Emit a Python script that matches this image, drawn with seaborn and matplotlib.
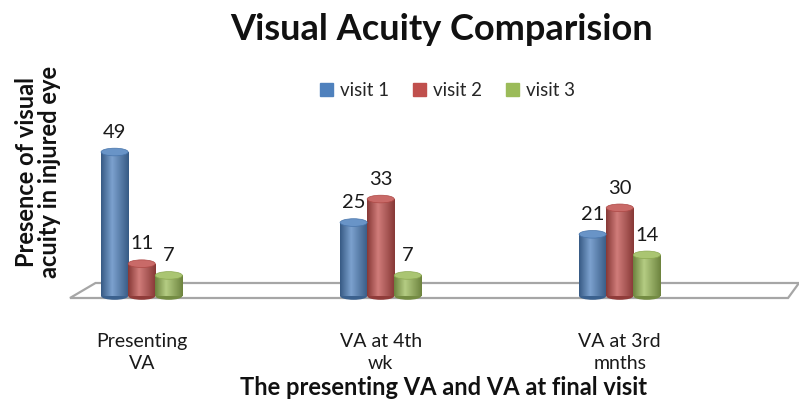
"""Visual acuity comparison chart (cylinder-style grouped bars)."""

import matplotlib.pyplot as plt
import numpy as np
import pandas as pd
import seaborn as sns
from matplotlib.colors import LinearSegmentedColormap, to_rgb
from matplotlib.patches import Ellipse, Polygon

categories = ["Presenting\nVA", "VA at 4th\nwk", "VA at 3rd\nmnths"]
visits = ["visit 1", "visit 2", "visit 3"]
visit1 = [49, 25, 21]
visit2 = [11, 33, 30]
visit3 = [7, 7, 14]

colors = ["#4F81BD", "#C0504D", "#9BBB59"]


def shade(c, f):
    r = np.array(to_rgb(c))
    if f >= 0:
        return tuple(r + (1 - r) * f)
    return tuple(r * (1 + f))


df = pd.DataFrame({
    "category": np.repeat(categories, 3),
    "visit": visits * 3,
    "value": [v for trio in zip(visit1, visit2, visit3) for v in trio],
})

sns.set_theme(style="white")
plt.rcParams["font.family"] = ["Lato", "DejaVu Sans"]

fig = plt.figure(figsize=(7.99, 4.0), dpi=100)
ax = fig.add_axes([0.0876, 0.25, 0.9124, 0.50])

sns.barplot(data=df, x="category", y="value", hue="visit", palette=colors,
            width=0.34, gap=0, ax=ax, legend=False, saturation=1,
            linewidth=0, zorder=3)

# floor plane
floor = Polygon([[0.0, 0.01], [0.035, 0.085], [1.0, 0.085], [0.985, 0.01]],
                closed=True, transform=ax.transAxes, facecolor="white",
                edgecolor="#A6A6A6", linewidth=1.6, zorder=1, clip_on=False)
ax.add_patch(floor)

# cylinder shading and caps
grad = np.concatenate([np.linspace(0, 1, 40), np.linspace(1, 0, 60)])
for i, patch in enumerate(ax.patches[:9]):
    c = colors[i // 3]
    x, w, h = patch.get_x(), patch.get_width(), patch.get_height()
    cmap = LinearSegmentedColormap.from_list(
        "cyl", [shade(c, -0.3), shade(c, 0.25)])
    im = ax.imshow(grad[None, :], extent=(x, x + w, 0, h), aspect="auto",
                   cmap=cmap, zorder=3.5, origin="lower")
    im.set_clip_path(patch)
    ax.add_patch(Ellipse((x + w / 2, 0), w, 2.6, facecolor=shade(c, -0.25),
                         edgecolor="none", zorder=3.2))
    ax.add_patch(Ellipse((x + w / 2, h), w, 2.6, facecolor=shade(c, 0.15),
                         edgecolor=shade(c, -0.1), linewidth=0.5, zorder=4))
    ax.text(x + w / 2, h + 6.7, f"{h:.0f}", ha="center", va="center",
            fontsize=14.5, color="#1a1a1a", zorder=5)

ax.set_xticks(range(len(categories)))
ax.set_xticklabels(categories, fontsize=14, color="#1a1a1a",
                   linespacing=1.35)
ax.tick_params(axis="x", length=0, pad=24)
ax.set_yticks([])
ax.set_xlabel("")
ax.set_ylabel("")
for s in ax.spines.values():
    s.set_visible(False)
ax.set_xlim(-0.30, 2.75)
ax.set_ylim(-1.36, 66.7)

# legend
handles = [plt.Rectangle((0, 0), 1, 1, color=c) for c in colors]
fig.legend(handles, visits, loc="center", bbox_to_anchor=(0.56, 0.773),
           ncol=3, frameon=False, fontsize=13.5, handlelength=0.7,
           handleheight=0.7, handletextpad=0.35, columnspacing=1.3)

fig.text(0.553, 0.925, "Visual Acuity Comparision", ha="center",
         va="center", fontsize=26, fontweight="bold", color="#111111")
fig.text(0.555, 0.032, "The presenting VA and VA at final visit",
         ha="center", va="center", fontsize=17, fontweight="bold",
         color="#111111")
fig.text(0.047, 0.57, "Presence of visual\nacuity in injured eye",
         ha="center", va="center", rotation=90, fontsize=17,
         fontweight="bold", color="#111111", linespacing=1.0)

fig.savefig("out.png", dpi=100)
